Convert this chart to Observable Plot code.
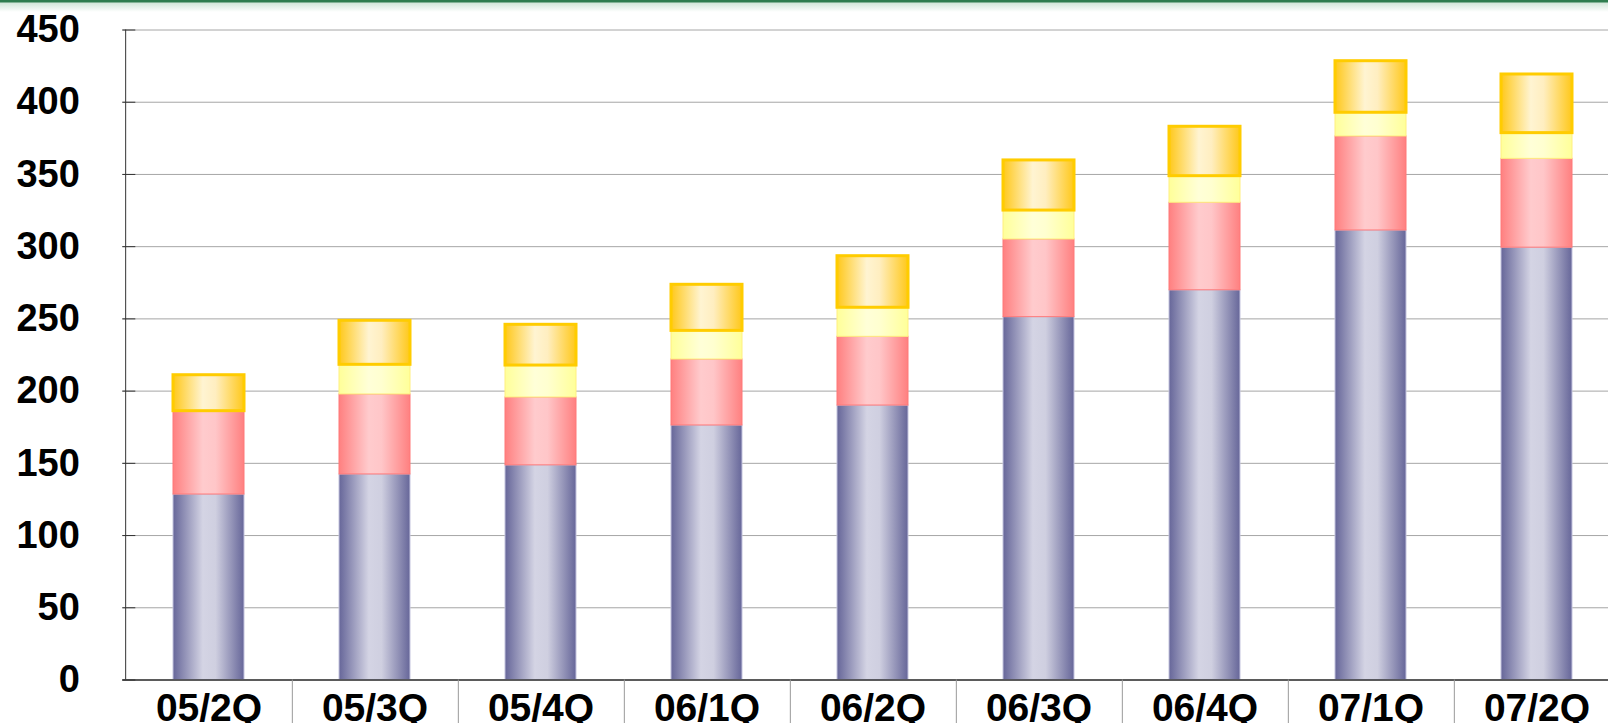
<!DOCTYPE html>
<html><head><meta charset="utf-8">
<script src="https://cdn.jsdelivr.net/npm/d3@7"></script>
<script src="https://cdn.jsdelivr.net/npm/@observablehq/plot@0.6"></script>
<style>
html,body{margin:0;padding:0;background:#fff;overflow:hidden;}
#wrap{position:relative;width:1608px;height:723px;}
#topbar{position:absolute;left:0;top:0;width:1608px;height:12px;background:linear-gradient(#2f7d4f 0px,#2f7d4f 2px,#d3e7da 3px,#ffffff 12px);}
</style></head><body><div id="wrap"><div id="chart"></div><div id="topbar"></div></div>
<script>
// ---- data ----
const categories = ["05/2Q","05/3Q","05/4Q","06/1Q","06/2Q","06/3Q","06/4Q","07/1Q","07/2Q"];
const seriesNames = ["s1","s2","s3","s4"];
const blueValues   = [128.4,142.3,148.6,176.2,190.0,251.2,269.8,311.2,299.3];
const redValues    = [57.7,55.4,47.0,45.7,47.6,53.8,60.6,65.1,61.5];
const yellowValues = [0,20.5,22.1,19.8,20.1,20.0,18.4,16.4,17.8];
const orangeValues = [24.9,30.5,28.2,31.9,35.7,34.7,34.2,35.7,40.6];
const yTicks = [0,50,100,150,200,250,300,350,400,450];

// ---- styles ----
const seriesStyle = {
  s1: {fill: "url(#gBlue)",   stroke: "#c4c4de", sw: 1},
  s2: {fill: "url(#gRed)",    stroke: "#ff7878", sw: 1},
  s3: {fill: "url(#gYellow)", stroke: "#fff080", sw: 1},
  s4: {fill: "url(#gOrange)", stroke: "#ffcc00", sw: 3}
};
const gradients = [
  {id: "gBlue",   stops: [[0,"#666699"],[0.42,"#d4d4e4"],[0.6,"#cfcfe0"],[1,"#666699"]]},
  {id: "gRed",    stops: [[0,"#ff8080"],[0.42,"#ffcbcd"],[0.6,"#ffc6c8"],[1,"#ff8080"]]},
  {id: "gYellow", stops: [[0,"#ffff99"],[0.42,"#ffffd8"],[0.6,"#ffffd0"],[1,"#ffff99"]]},
  {id: "gOrange", stops: [[0,"#ffc81a"],[0.42,"#fff4d2"],[0.6,"#ffeec0"],[1,"#ffc81a"]]}
];

const seriesValues = [blueValues, redValues, yellowValues, orangeValues];
const rows = [];
seriesNames.forEach((s, si) => {
  categories.forEach((c, ci) => {
    const v = seriesValues[si][ci];
    if (v > 0) rows.push({cat: c, series: s, value: v, ...seriesStyle[s]});
  });
});

function gradientDefs() {
  const defs = d3.create("svg:defs");
  for (const g of gradients) {
    const lg = defs.append("linearGradient").attr("id", g.id)
      .attr("x1", "0").attr("x2", "1").attr("y1", "0").attr("y2", "0");
    g.stops.forEach(([o, c]) => lg.append("stop").attr("offset", o).attr("stop-color", c));
  }
  return defs.node();
}

const xRange = [122.3, 1622.3];
const step = (xRange[1] - xRange[0]) / categories.length;

const chart = Plot.plot({
  width: 1608, height: 723,
  marginLeft: 122.3, marginRight: 0, marginTop: 29.5, marginBottom: 43.5,
  style: {fontFamily: "'Liberation Sans', Arial, sans-serif", background: "transparent"},
  x: {domain: categories, range: xRange, paddingInner: 0.574, paddingOuter: 0.287, align: 0.5, label: null},
  y: {domain: [0, 450], label: null},
  color: {type: "identity"},
  marks: [
    gradientDefs,
    Plot.gridY(yTicks, {stroke: "#a6a6a6", strokeOpacity: 1}),
    Plot.barY(rows, Plot.stackY({x: "cat", y: "value", z: "series", order: null, fill: "fill", stroke: "stroke", strokeWidth: "sw"})),
    Plot.ruleY([0], {stroke: "#333", strokeWidth: 1.3}),
    Plot.ruleX([categories[0]], {x: d => d, dx: -step / 2, y1: 0, y2: 450, stroke: "#333"}),
    Plot.ruleX(categories, {x: d => d, dx: step / 2, y1: 0, y2: -31, stroke: "#999"}),
    Plot.axisY(yTicks, {tickSize: 13, dx: 13, tickFormat: () => "", stroke: "#333", label: null}),
    Plot.axisY(yTicks, {tickSize: 0, tickPadding: 43, fontSize: 38, fontWeight: "bold", fill: "#000", label: null}),
    Plot.axisX({tickSize: 0, tickPadding: 13, fontSize: 39, fontWeight: "bold", fill: "#000", label: null})
  ]
});
document.getElementById("chart").appendChild(chart);
</script></body></html>
